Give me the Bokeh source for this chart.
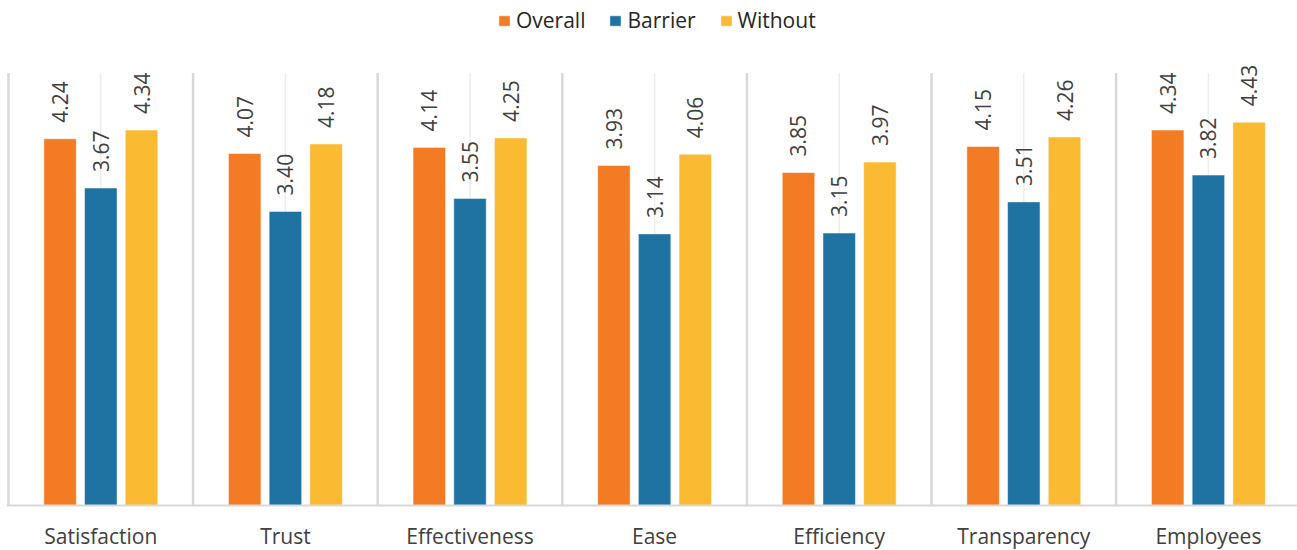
import numpy as np
from bokeh.plotting import figure
from bokeh.models import Range1d, FixedTicker, Legend, LegendItem, ColumnDataSource
from bokeh.core.properties import value
from bokeh.embed import file_html
from bokeh.resources import INLINE

# Survey scores per category for each respondent group
categories = ["Satisfaction", "Trust", "Effectiveness", "Ease", "Efficiency",
              "Transparency", "Employees"]
series_names = ["Overall", "Barrier", "Without"]
overall = [4.24, 4.07, 4.14, 3.93, 3.85, 4.15, 4.34]
barrier = [3.67, 3.40, 3.55, 3.14, 3.15, 3.51, 3.82]
without = [4.34, 4.18, 4.25, 4.06, 3.97, 4.26, 4.43]
colors = ["#F27B24", "#1F73A2", "#FABA32"]

FONT = "Open Sans"
TEXT_COLOR = "#404040"

n = len(categories)
px_per_cat = 184.6        # horizontal pixels per category slot
px_per_unit = 86.5        # vertical pixels per score unit
left_pad_px = 2           # room for the first separator line
frame_w = 1291
frame_h = 505
scale_top = 5.0           # separators run from 0 up to this score

x_start = -left_pad_px / px_per_cat
p = figure(
    frame_width=frame_w, frame_height=frame_h,
    output_backend="svg", toolbar_location=None,
    x_range=Range1d(x_start, x_start + frame_w / px_per_cat),
    y_range=Range1d(0, frame_h / px_per_unit),
    min_border_left=6, min_border_right=0, min_border_top=0, min_border_bottom=45,
    y_axis_location=None, outline_line_color=None,
)
p.xgrid.visible = False
p.ygrid.visible = False

bounds = list(range(n))
centers = [i + 0.5 for i in range(n)]

# category separators and faint centre guides
p.segment(x0=bounds, y0=0, x1=bounds, y1=scale_top,
          line_color="#D9D9D9", line_width=2.5)
p.segment(x0=centers, y0=0, x1=centers, y1=scale_top,
          line_color="#EDEDED", line_width=1.5)

offsets = [-0.2205, 0.0, 0.2205]
bar_w = 0.176
label_gap = 16 / px_per_unit

renderers = []
for vals, off, col in zip([overall, barrier, without], offsets, colors):
    src = ColumnDataSource(dict(
        x=[c + off for c in centers],
        top=vals,
        label=[f"{v:.2f}" for v in vals],
        ly=[v + label_gap for v in vals],
    ))
    r = p.vbar(x="x", top="top", width=bar_w, source=src,
               fill_color=col, line_color="white", line_alpha=0.5, line_width=1)
    renderers.append(r)
    p.text(x="x", y="ly", text="label", source=src, angle=np.pi / 2,
           text_align="left", text_baseline="middle",
           text_font=value(FONT), text_font_size="21px", text_color=TEXT_COLOR)

legend = Legend(
    items=[LegendItem(label=nm, renderers=[r]) for nm, r in zip(series_names, renderers)],
    orientation="horizontal", location=(491, 471),
    border_line_color=None, background_fill_alpha=0,
    label_text_font=FONT, label_text_font_size="21px", label_text_color="#262626",
    glyph_width=14, glyph_height=13, label_standoff=5, spacing=23,
    padding=6, margin=0,
)
p.add_layout(legend)

ax = p.xaxis[0]
ax.ticker = FixedTicker(ticks=centers)
ax.major_label_overrides = {c: nm for c, nm in zip(centers, categories)}
ax.major_tick_line_color = None
ax.minor_tick_line_color = None
ax.axis_line_color = "#D9D9D9"
ax.axis_line_width = 2
ax.major_label_standoff = 10
ax.major_label_text_font = FONT
ax.major_label_text_font_size = "21px"
ax.major_label_text_color = TEXT_COLOR

open("out.html", "w").write(file_html(p, INLINE))
